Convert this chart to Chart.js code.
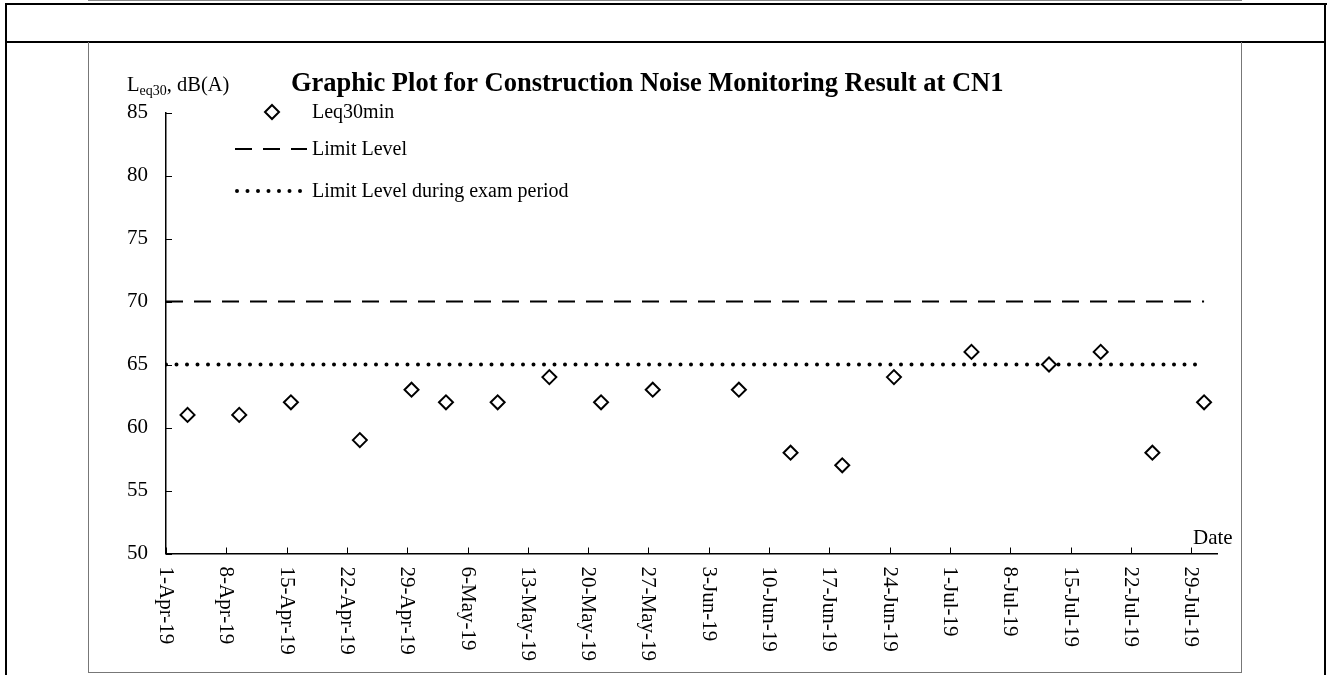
<!DOCTYPE html>
<html>
<head>
<meta charset="utf-8">
<script src="https://cdn.jsdelivr.net/npm/chart.js@4.4.1/dist/chart.umd.min.js"></script>
<style>
  body { margin: 0; background: #fff; }
  #page { position: relative; width: 1333px; height: 675px; overflow: hidden; }
  .ln { position: absolute; background: #000; }
  #frame { position: absolute; left: 88px; top: 42px; width: 1152px; height: 630px;
           border-left: 1.5px solid #777; border-right: 1.5px solid #777; border-bottom: 1.5px solid #777; }
  #box { position: absolute; left: 89px; top: 43px; width: 1152px; height: 630px; }
</style>
</head>
<body>
<div id="page">
  <!-- table rules around the chart -->
  <div class="ln" style="left:88px;top:0;width:1154px;height:1px;background:#888"></div>
  <div class="ln" style="left:5px;top:3px;width:1322px;height:2px"></div>
  <div class="ln" style="left:5px;top:3px;width:2px;height:672px"></div>
  <div class="ln" style="left:1324px;top:3px;width:2px;height:672px"></div>
  <div class="ln" style="left:5px;top:41px;width:1321px;height:2px"></div>
  <div id="frame"></div>
  <div id="box"><canvas id="noiseChart"></canvas></div>
</div>

<script>
// Tick labels on the date axis (one per week, days counted from 1-Apr-19)
var tickLabels = ["1-Apr-19", "8-Apr-19", "15-Apr-19", "22-Apr-19", "29-Apr-19", "6-May-19",
  "13-May-19", "20-May-19", "27-May-19", "3-Jun-19", "10-Jun-19", "17-Jun-19", "24-Jun-19",
  "1-Jul-19", "8-Jul-19", "15-Jul-19", "22-Jul-19", "29-Jul-19"];
var tickDays = [0, 7, 14, 21, 28, 35, 42, 49, 56, 63, 70, 77, 84, 91, 98, 105, 112, 119];

// Measurement times (days after 1-Apr-19, around midday) and Leq30min results
var sampleDays = [2.5, 8.5, 14.5, 22.5, 28.5, 32.5, 38.5, 44.5, 50.5, 56.5,
  66.5, 72.5, 78.5, 84.5, 93.5, 102.5, 108.5, 114.5, 120.5];
var leq30 = [61, 61, 62, 59, 63, 62, 62, 64, 62, 63, 63, 58, 57, 64, 66, 65, 66, 58, 62];

// Limit levels, drawn across the monitoring period
var limitDays = [0, 120.5];
var limitLevel = [70, 70];
var examLimit = [65, 65];

var serif = "'Liberation Serif', 'Times New Roman', serif";

function toPoints(xs, ys) {
  return xs.map(function (x, i) { return { x: x, y: ys[i] }; });
}

// Extra drawing: inward ticks, rotated date labels, titles and the legend
var decorations = {
  id: "decorations",
  afterDraw: function (chart) {
    var ctx = chart.ctx;
    var xs = chart.scales.x;
    var ys = chart.scales.y;
    var area = chart.chartArea;
    ctx.save();
    ctx.strokeStyle = "#000";
    ctx.fillStyle = "#000";
    ctx.lineWidth = 1;

    // tick marks pointing into the plot
    tickDays.forEach(function (d, i) {
      var px = Math.round(xs.getPixelForValue(d)) + 0.5;
      ctx.beginPath();
      ctx.moveTo(px, area.bottom);
      ctx.lineTo(px, area.bottom - 6);
      ctx.stroke();

      // date label, reading downwards
      ctx.save();
      ctx.translate(px, area.bottom + 13);
      ctx.rotate(Math.PI / 2);
      ctx.font = "21px " + serif;
      ctx.textAlign = "left";
      ctx.textBaseline = "middle";
      ctx.fillText(tickLabels[i], 0, 1);
      ctx.restore();
    });
    ys.ticks.forEach(function (t) {
      var py = Math.round(ys.getPixelForValue(t.value)) + 0.5;
      ctx.beginPath();
      ctx.moveTo(area.left, py);
      ctx.lineTo(area.left + 6, py);
      ctx.stroke();
    });

    // chart title
    ctx.font = "bold 26.5px " + serif;
    ctx.textAlign = "left";
    ctx.textBaseline = "alphabetic";
    ctx.fillText("Graphic Plot for Construction Noise Monitoring Result at CN1", 202, 48);

    // y axis title: L with subscript eq30
    ctx.font = "20.5px " + serif;
    ctx.fillText("L", 38, 48);
    var w = ctx.measureText("L").width;
    ctx.font = "14px " + serif;
    ctx.fillText("eq30", 38 + w, 52);
    var w2 = ctx.measureText("eq30").width;
    ctx.font = "20.5px " + serif;
    ctx.fillText(", dB(A)", 38 + w + w2, 48);

    // x axis title
    ctx.font = "21px " + serif;
    ctx.fillText("Date", 1104, 501);

    // legend
    var ds = chart.data.datasets;
    ctx.font = "20px " + serif;
    ctx.textBaseline = "middle";
    var tx = 223;

    var pt = ds[0];
    ctx.beginPath();
    ctx.moveTo(183, 62);
    ctx.lineTo(190, 69);
    ctx.lineTo(183, 76);
    ctx.lineTo(176, 69);
    ctx.closePath();
    ctx.fillStyle = pt.pointBackgroundColor;
    ctx.fill();
    ctx.lineWidth = pt.pointBorderWidth;
    ctx.strokeStyle = pt.pointBorderColor;
    ctx.stroke();
    ctx.fillStyle = "#000";
    ctx.fillText(pt.label, tx, 70);

    [ds[1], ds[2]].forEach(function (d, k) {
      var ly = k === 0 ? 106 : 148;
      ctx.save();
      ctx.setLineDash(d.borderDash);
      ctx.lineCap = d.borderCapStyle;
      ctx.lineWidth = d.borderWidth;
      ctx.strokeStyle = d.borderColor;
      ctx.beginPath();
      ctx.moveTo(k === 0 ? 146 : 148, ly);
      ctx.lineTo(k === 0 ? 218 : 212, ly);
      ctx.stroke();
      ctx.restore();
      ctx.fillText(d.label, tx, ly + 1);
    });
    ctx.restore();
  }
};

var ctxNoise = document.getElementById("noiseChart").getContext("2d");
var noiseChart = new Chart(ctxNoise, {
  type: "scatter",
  data: {
    datasets: [
      {
        label: "Leq30min",
        data: toPoints(sampleDays, leq30),
        showLine: false,
        pointStyle: "rectRot",
        pointRadius: 7,
        pointBorderWidth: 2,
        pointBorderColor: "#000",
        pointBackgroundColor: "#fff",
        order: 0,
      },
      {
        label: "Limit Level",
        data: toPoints(limitDays, limitLevel),
        showLine: true,
        borderColor: "#000",
        borderWidth: 2,
        borderDash: [17, 11],
        borderCapStyle: "butt",
        pointRadius: 0,
        order: 2,
      },
      {
        label: "Limit Level during exam period",
        data: toPoints(limitDays, examLimit),
        showLine: true,
        borderColor: "#000",
        borderWidth: 4,
        borderDash: [0, 10.5],
        borderCapStyle: "round",
        pointRadius: 0,
        order: 1,
      },
    ],
  },
  options: {
    responsive: true,
    maintainAspectRatio: false,
    animation: false,
    events: [],
    layout: { padding: { top: 69.5, right: 24, left: 0, bottom: 0 } },
    plugins: {
      legend: { display: false },
      tooltip: { enabled: false },
      title: { display: false },
    },
    scales: {
      x: {
        type: "linear",
        min: 0,
        max: 122,
        afterBuildTicks: function (scale) {
          scale.ticks = tickDays.map(function (d) { return { value: d }; });
        },
        afterFit: function (scale) { scale.height = 119.5; },
        grid: { display: false, drawTicks: false },
        border: { display: true, color: "#000", width: 1.5 },
        ticks: { display: false },
      },
      y: {
        min: 50,
        max: 85,
        afterFit: function (scale) { scale.width = 77; },
        grid: { display: false, drawTicks: false },
        border: { display: true, color: "#000", width: 1.5 },
        ticks: {
          stepSize: 5,
          padding: 18,
          color: "#000",
          font: { family: serif, size: 21 },
        },
      },
    },
  },
  plugins: [decorations],
});
</script>
</body>
</html>
